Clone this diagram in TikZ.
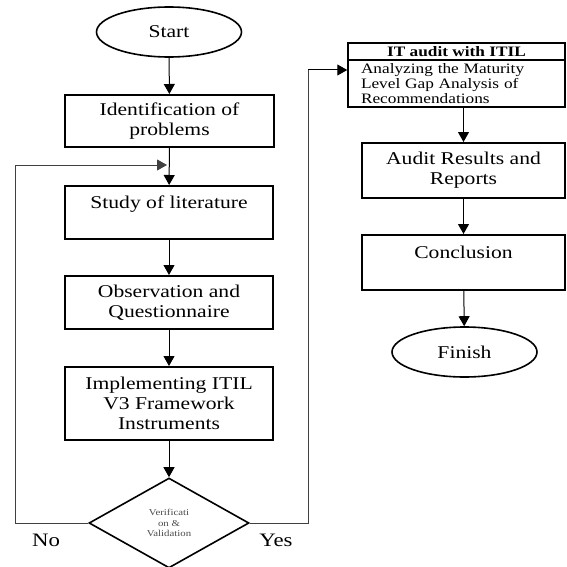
\documentclass[tikz,border=0pt]{standalone}
\usepackage{fontspec}
\setmainfont{Liberation Serif}[FakeStretch=1.2]
\usetikzlibrary{shapes.geometric,arrows.meta}
\begin{document}
\begin{tikzpicture}[x=1pt,y=-1pt,
  box/.style={draw=black,line width=2pt,rectangle,inner sep=0pt,align=center,
    font=\fontsize{18}{20}\selectfont},
  term/.style={draw=black,line width=1.6pt,ellipse,inner sep=0pt,
    minimum width=145pt,minimum height=50pt,font=\fontsize{18}{20}\selectfont},
  conn/.style={draw=black,line width=1pt,-{Triangle[length=10pt,width=11pt]}},
  loopline/.style={draw=black!75,line width=1pt},
  lbl/.style={inner sep=0pt,font=\fontsize{19}{20}\selectfont}]
\useasboundingbox (0,0) rectangle (566,567);
% left column
\node[term] (start) at (169,32) {Start};
\node[box,minimum width=209pt,minimum height=52pt] (ident) at (169.5,121) {Identification of\\problems};
\node[box,minimum width=208pt,minimum height=53pt] (study) at (169,212.5) {Study of literature\\\mbox{}};
\node[box,minimum width=208pt,minimum height=53pt] (obs) at (169,302.5) {Observation and\\Questionnaire};
\node[box,minimum width=208pt,minimum height=73pt] (impl) at (169,403.5) {Implementing ITIL\\V3 Framework\\Instruments};
\node[draw=black,line width=1.6pt,diamond,inner sep=0pt,minimum width=160pt,minimum height=90pt,
  align=center,text=black!70,font=\fontsize{9}{10.3}\selectfont] (diam) at (169,523) {Verificati\\on \&\\Validation};
\node[lbl] (no) at (46,540) {No};
\node[lbl] (yes) at (276,540) {Yes};
% right column
\node[draw=black,line width=1.5pt,rectangle,inner sep=0pt,minimum width=217pt,minimum height=17pt,
  font=\fontsize{14.4}{14.5}\selectfont\bfseries] (ithead) at (456.5,51.5) {IT audit with ITIL};
\node[draw=black,line width=1.5pt,rectangle,inner sep=0pt,minimum width=217pt,minimum height=47pt,
  align=left,font=\fontsize{14.4}{14.8}\selectfont,text width=191pt] (itbody) at (456.5,83.5)
  {Analyzing the Maturity\\Level Gap Analysis of\\Recommendations};
\node[box,minimum width=203pt,minimum height=55pt] (audit) at (463.5,170.5) {Audit Results and\\Reports};
\node[box,minimum width=203pt,minimum height=55pt] (concl) at (463.5,262.5) {Conclusion\\\mbox{}};
\node[term] (finish) at (464.5,352) {Finish};
% connectors
\coordinate (noCorner) at (15,523);
\coordinate (noTop) at (15,165);
\coordinate (yesCorner) at (308,523);
\coordinate (yesTop) at (308,70);
\draw[conn] (start) -- (ident);
\draw[conn] (ident) -- (study);
\draw[conn] (study) -- (obs);
\draw[conn] (obs) -- (impl);
\draw[conn] (impl) -- (diam);
\draw[loopline] (diam.west) -- (noCorner) -- (noTop);
\draw[conn,draw=black!75] (noTop) -- ([xshift=-2pt]noTop -| study.north);
\draw[loopline] (diam.east) -- (yesCorner) -- (yesTop);
\draw[conn] (yesTop) -- (yesTop -| itbody.west);
\draw[conn] (itbody.south -| audit.north) -- (audit.north);
\draw[conn] (audit) -- (concl);
\draw[conn] (concl) -- (finish);
\end{tikzpicture}
\end{document}
